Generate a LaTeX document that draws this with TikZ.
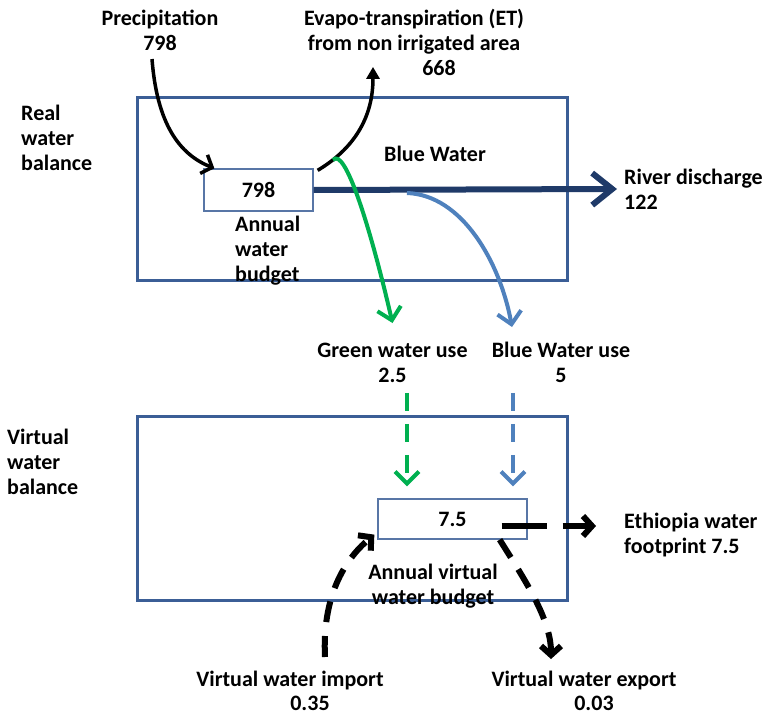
\documentclass[tikz,border=0pt]{standalone}
\usepackage{fontspec}
\setmainfont{Carlito}
\usetikzlibrary{arrows.meta}

\definecolor{frameblue}{HTML}{3B5E96}
\definecolor{riverblue}{HTML}{1F3A68}
\definecolor{lightblue}{HTML}{4F81BD}
\definecolor{greenuse}{HTML}{00B050}

\begin{document}
\begin{tikzpicture}[
    x=1pt, y=-1pt,
    txt/.style={font=\fontsize{22}{25}\selectfont\bfseries, inner sep=0pt, align=center},
    frame/.style={draw=frameblue, line width=3pt, minimum width=430pt, inner sep=0pt},
    budgetbox/.style={draw=frameblue!85, line width=1.3pt, fill=white,
        font=\fontsize{22}{25}\selectfont\bfseries, inner sep=0pt},
    flow/.style={line width=3.5pt, -{Straight Barb[length=9pt, width=20pt]}},
    use/.style={line width=4pt, -{Straight Barb[length=12pt, width=24pt]}},
    dashuse/.style={use, dash pattern=on 18pt off 13pt},
    virt/.style={line width=6pt, dash pattern=on 21pt off 14pt,
        -{Straight Barb[length=9pt, width=20pt]}},
]
\useasboundingbox (0,0) rectangle (768,717);

% Two frames: real balance (top), virtual balance (bottom)
\node[frame, minimum height=183pt] (realframe) at (352,188.5) {};
\node[frame, minimum height=184pt] (virtframe) at (352,508) {};

\node[txt, align=left, anchor=north west] (realtxt) at (21,105) {Real\\water\\balance};
\node[txt, align=left, anchor=north west] (virttxt) at (7,429) {Virtual\\water\\balance};

% Real water balance
\node[budgetbox, minimum width=109pt, minimum height=42pt] (budget) at (258.5,190) {798};
\node[txt, align=left, anchor=north west] (annual) at (235,216) {Annual\\water\\budget};
\node[txt, anchor=north] (precip) at (160,10) {Precipitation\\798};
\node[txt, anchor=north] (et) at (414,9)
    {Evapo-transpiration (ET)\\from non irrigated area\\\hspace*{50pt}668};
\node[txt] (bluewater) at (435,154) {Blue Water};
\node[txt, align=left, anchor=west] (river) at (624,189) {River discharge\\122};
\node[txt, anchor=north] (greenlbl) at (392.5,343) {Green water use\\2.5};
\node[txt, anchor=north] (bluelbl) at (561,342) {Blue Water use\\5};

\coordinate (gstart) at (333,160);
\coordinate (bstart) at (407,193);

\draw[flow] ([xshift=-8pt, yshift=-8pt]precip.south) .. controls +(5,65) and +(-35,-14) ..
    ([xshift=11pt]budget.north west);
\draw[line width=3.5pt, -{Triangle[length=12pt, width=13pt]}] ([xshift=4pt, yshift=-2pt]budget.north east)
    .. controls +(30,-18) and +(0,57) .. ([xshift=-41pt, yshift=9pt]et.south);
\draw[riverblue, line width=6pt, -{Straight Barb[length=20pt, width=32pt]}]
    (budget.east) -- ([xshift=-7pt]river.west);
\draw[use, greenuse] (gstart) .. controls +(12,-14) and +(-22,-95) .. ([yshift=20pt]greenlbl.north);
\draw[use, lightblue] (bstart) .. controls +(55,2) and +(-12,-65) ..
    ([xshift=-49pt, yshift=15pt]bluelbl.north);

% Virtual water balance
\node[budgetbox, minimum width=149pt, minimum height=40pt] (vbudget) at (452.5,519) {7.5};
\node[txt, anchor=north] (vannual) at (433,564) {Annual virtual\\water budget};
\node[txt, align=left, anchor=west] (ethiopia) at (624,535) {Ethiopia water\\footprint 7.5};
\node[txt, anchor=north, font=\fontsize{22}{24}\selectfont\bfseries] (import) at (290,671)
    {Virtual water import\\\hspace*{40pt}0.35};
\node[txt, anchor=north, font=\fontsize{22}{24}\selectfont\bfseries] (export) at (584,671)
    {Virtual water export\\\hspace*{20pt}0.03};

\draw[dashuse, greenuse] ([xshift=14.5pt, yshift=-10pt]greenlbl.south) --
    ([xshift=-45.5pt, yshift=12pt]vbudget.north);
\draw[dashuse, lightblue] ([xshift=-48pt, yshift=-10pt]bluelbl.south) --
    ([xshift=60.5pt, yshift=12pt]vbudget.north);

\draw[virt, dash pattern=on 45pt off 16pt] ([xshift=-26pt, yshift=-7pt]vbudget.east) --
    ([xshift=-28pt, yshift=9pt]ethiopia.west);
\draw[virt] ([xshift=35pt, yshift=14pt]import.north) .. controls +(-3,-60) and +(-30,25) ..
    ([xshift=-3pt, yshift=5pt]vbudget.south west);
\draw[virt] ([xshift=-28pt]vbudget.south east) .. controls +(25,40) and +(0,-40) ..
    ([xshift=-33pt, yshift=12pt]export.north);

\end{tikzpicture}
\end{document}
